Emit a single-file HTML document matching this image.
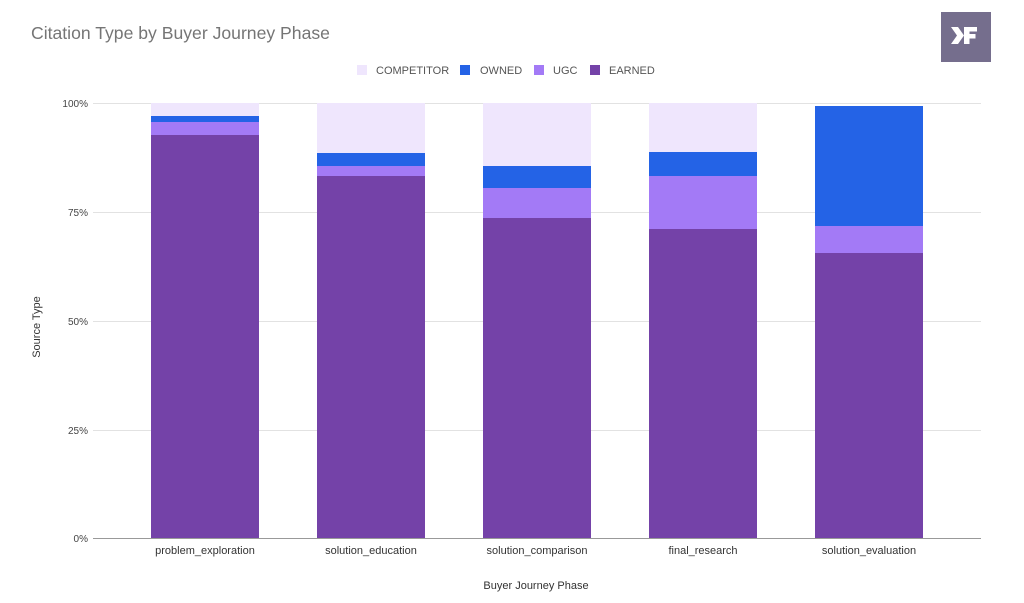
<!DOCTYPE html>
<html>
<head>
<meta charset="utf-8">
<style>
html,body{margin:0;padding:0;background:#fff;}
svg{display:block;}
text{font-family:"Liberation Sans",Arial,sans-serif;}
</style>
</head>
<body>
<svg width="1024" height="603" viewBox="0 0 1024 603" xmlns="http://www.w3.org/2000/svg">
<rect width="1024" height="603" fill="#fff"/>
<text x="31" y="39" font-size="17.6" fill="#757575">Citation Type by Buyer Journey Phase</text>

<!-- logo -->
<rect x="941" y="12" width="50" height="50" fill="#756e8d"/>
<path d="M951 27 L958 27 L964 35.5 L958 44 L951 44 L957 35.5 Z" fill="#fff"/>
<path d="M964 27 L977 27 L977 31.5 L969.5 31.5 L969.5 34 L975.5 34 L975.5 38.5 L969.5 38.5 L969.5 44 L964 44 Z" fill="#fff"/>

<!-- legend -->
<rect x="357" y="65" width="10" height="10" fill="#efe6fd"/>
<text x="376" y="74" font-size="11" fill="#555">COMPETITOR</text>
<rect x="460" y="65" width="10" height="10" fill="#2463e6"/>
<text x="480" y="74" font-size="11" fill="#555">OWNED</text>
<rect x="534" y="65" width="10" height="10" fill="#a37af6"/>
<text x="553" y="74" font-size="11" fill="#555">UGC</text>
<rect x="590" y="65" width="10" height="10" fill="#7442a8"/>
<text x="609" y="74" font-size="11" fill="#555">EARNED</text>

<!-- gridlines -->
<g stroke="#e2e2e2" stroke-width="1">
<line x1="93" y1="103.5" x2="981" y2="103.5"/>
<line x1="93" y1="212.5" x2="981" y2="212.5"/>
<line x1="93" y1="321.5" x2="981" y2="321.5"/>
<line x1="93" y1="430.5" x2="981" y2="430.5"/>
</g>

<!-- y labels -->
<g font-size="10" fill="#444" text-anchor="end">
<text x="88" y="107">100%</text>
<text x="88" y="216">75%</text>
<text x="88" y="325">50%</text>
<text x="88" y="434">25%</text>
<text x="88" y="542">0%</text>
</g>
<text transform="translate(40,327) rotate(-90)" font-size="11" fill="#333" text-anchor="middle">Source Type</text>

<!-- bars -->
<g>
<rect x="151" y="103" width="108" height="13" fill="#efe6fd"/>
<rect x="151" y="116" width="108" height="6" fill="#2463e6"/>
<rect x="151" y="122" width="108" height="13" fill="#a37af6"/>
<rect x="151" y="135" width="108" height="403.5" fill="#7442a8"/>

<rect x="317" y="103" width="108" height="50" fill="#efe6fd"/>
<rect x="317" y="153" width="108" height="13" fill="#2463e6"/>
<rect x="317" y="166" width="108" height="10" fill="#a37af6"/>
<rect x="317" y="176" width="108" height="362.5" fill="#7442a8"/>

<rect x="483" y="103" width="108" height="63" fill="#efe6fd"/>
<rect x="483" y="166" width="108" height="22" fill="#2463e6"/>
<rect x="483" y="188" width="108" height="30" fill="#a37af6"/>
<rect x="483" y="218" width="108" height="320.5" fill="#7442a8"/>

<rect x="649" y="103" width="108" height="49" fill="#efe6fd"/>
<rect x="649" y="152" width="108" height="24" fill="#2463e6"/>
<rect x="649" y="176" width="108" height="53" fill="#a37af6"/>
<rect x="649" y="229" width="108" height="309.5" fill="#7442a8"/>

<rect x="815" y="106" width="108" height="120" fill="#2463e6"/>
<rect x="815" y="226" width="108" height="27" fill="#a37af6"/>
<rect x="815" y="253" width="108" height="285.5" fill="#7442a8"/>
</g>

<!-- baseline -->
<line x1="93" y1="538.5" x2="981" y2="538.5" stroke="#999" stroke-width="1"/>

<!-- x labels -->
<g font-size="11" fill="#333" text-anchor="middle">
<text x="205" y="554">problem_exploration</text>
<text x="371" y="554">solution_education</text>
<text x="537" y="554">solution_comparison</text>
<text x="703" y="554">final_research</text>
<text x="869" y="554">solution_evaluation</text>
</g>
<text x="536" y="589" font-size="11" fill="#333" text-anchor="middle">Buyer Journey Phase</text>
</svg>
</body>
</html>
